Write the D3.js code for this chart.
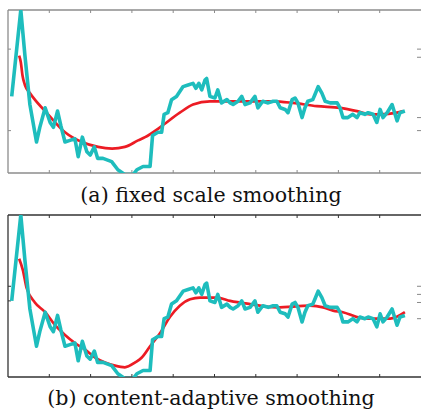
<!DOCTYPE html>
<meta charset="utf-8">
<script src="https://d3js.org/d3.v7.min.js"></script>
<style>
  body { margin: 0; background: #fff; }
  svg { display: block; }
</style>
<div id="chart"></div>
<script>
// signal (same noisy curve in both panels)
const sigX = [0.9, 3.1, 4.1, 5.3, 6.9, 7.7, 9.0, 10.2, 11.0, 12.0, 12.8, 13.8, 15.0, 16.2, 17.0, 18.0, 19.1, 19.9, 20.9, 21.7, 23.0, 25.1, 26.6, 28.3, 30.3, 31.2, 32.7, 34.4, 35.0, 36.3, 37.2, 37.8, 38.7, 39.6, 40.8, 42.4, 43.6, 44.8, 45.5, 46.2, 46.9, 47.7, 48.1, 48.9, 50.1, 50.8, 51.7, 53.0, 53.8, 54.5, 55.7, 56.6, 57.4, 58.6, 59.8, 60.5, 61.7, 63.0, 64.2, 65.1, 65.9, 67.1, 67.8, 68.8, 69.5, 70.2, 71.2, 71.9, 72.6, 73.8, 74.3, 75.1, 76.0, 76.8, 78.0, 79.7, 80.4, 81.1, 82.3, 83.5, 84.5, 85.2, 86.4, 87.2, 88.4, 89.3, 90.1, 90.8, 91.8, 93.0, 94.2, 94.9, 96.1];
const sigY = [0.47, 1.0, 0.72, 0.42, 0.19, 0.28, 0.40, 0.31, 0.28, 0.38, 0.29, 0.19, 0.20, 0.21, 0.10, 0.22, 0.13, 0.11, 0.16, 0.09, 0.09, 0.07, 0.02, -0.01, -0.01, 0.02, 0.04, 0.04, 0.23, 0.25, 0.25, 0.36, 0.37, 0.45, 0.47, 0.53, 0.54, 0.55, 0.52, 0.55, 0.51, 0.57, 0.58, 0.47, 0.46, 0.51, 0.43, 0.45, 0.43, 0.42, 0.44, 0.47, 0.42, 0.43, 0.47, 0.40, 0.44, 0.43, 0.44, 0.44, 0.40, 0.39, 0.37, 0.45, 0.46, 0.43, 0.34, 0.40, 0.44, 0.45, 0.48, 0.53, 0.49, 0.44, 0.43, 0.43, 0.40, 0.34, 0.34, 0.36, 0.34, 0.37, 0.36, 0.37, 0.36, 0.31, 0.39, 0.34, 0.37, 0.42, 0.32, 0.37, 0.38];

// (a) fixed scale smoothing
const fixedX = [2.7, 3.1, 3.5, 4.1, 5.3, 6.5, 9.7, 13.8, 17.9, 21.8, 25.2, 28.3, 31.5, 33.2, 36.8, 41.6, 44.8, 48.9, 53.8, 58.6, 64.2, 69.0, 74.8, 80.4, 84.5, 87.7, 90.1, 94.2, 95.6];
const fixedY = [0.72, 0.68, 0.60, 0.54, 0.49, 0.45, 0.36, 0.25, 0.19, 0.16, 0.15, 0.16, 0.20, 0.22, 0.28, 0.37, 0.42, 0.44, 0.44, 0.44, 0.44, 0.43, 0.41, 0.40, 0.38, 0.36, 0.36, 0.37, 0.38];

// (b) content-adaptive smoothing
const adaptX = [2.7, 3.6, 4.5, 6.5, 9.0, 11.4, 13.8, 16.2, 18.6, 21.1, 23.5, 25.9, 28.3, 30.8, 32.4, 34.4, 36.8, 39.2, 41.6, 44.1, 46.5, 50.6, 53.8, 58.6, 65.1, 73.1, 76.3, 78.7, 81.1, 84.5, 87.7, 92.5, 96.1];
const adaptY = [0.73, 0.66, 0.55, 0.46, 0.40, 0.32, 0.26, 0.21, 0.17, 0.12, 0.09, 0.07, 0.06, 0.09, 0.12, 0.19, 0.27, 0.37, 0.44, 0.48, 0.49, 0.49, 0.47, 0.45, 0.43, 0.44, 0.43, 0.41, 0.40, 0.37, 0.36, 0.36, 0.40];

const xTicks = [0, 10, 20, 30, 40, 50, 60, 70, 80, 90, 100];
const leftTicksA = [0.76, 0.26];
const rightTicksA = [0.76, 0.71, 0.34, 0.26];
const leftTicksB = [0.56, 0.47];
const rightTicksB = [0.56, 0.51, 0.46, 0.36];

const captions = ["(a) fixed scale smoothing", "(b) content-adaptive smoothing"];

const W = 421, H = 411;
const svg = d3.select("#chart").append("svg")
  .attr("width", W).attr("height", H);

const x = d3.scaleLinear().domain([0, 100]).range([8, 421]);

const cyan = "#1ebdbd", red = "#ec1c24";

function panel(id, top, bottom, smoothX, smoothY, lt, rt, frameColor, caption, capY) {
  const y = d3.scaleLinear().domain([0, 1]).range([bottom, top]);
  const g = svg.append("g");

  g.append("clipPath").attr("id", "clip" + id)
    .append("rect").attr("x", 8).attr("y", top).attr("width", W - 8).attr("height", bottom - top);

  // frame
  g.append("line").attr("x1", 8).attr("x2", W).attr("y1", top).attr("y2", top)
    .attr("stroke", frameColor).attr("stroke-width", 1.3);
  g.append("line").attr("x1", 8).attr("x2", W).attr("y1", bottom).attr("y2", bottom)
    .attr("stroke", frameColor).attr("stroke-width", 1.3);
  g.append("line").attr("x1", 8).attr("x2", 8).attr("y1", top).attr("y2", bottom)
    .attr("stroke", frameColor).attr("stroke-width", 1.3);

  // ticks
  const tk = xTicks.slice(1, -1);
  g.selectAll(".tt").data(tk).join("line")
    .attr("x1", d => x(d)).attr("x2", d => x(d))
    .attr("y1", top).attr("y2", top + 3)
    .attr("stroke", frameColor).attr("stroke-width", 1);
  g.selectAll(".tb").data(tk).join("line")
    .attr("x1", d => x(d)).attr("x2", d => x(d))
    .attr("y1", bottom).attr("y2", bottom - 3)
    .attr("stroke", frameColor).attr("stroke-width", 1);
  g.selectAll(".tl").data(lt).join("line")
    .attr("x1", 8).attr("x2", 11)
    .attr("y1", d => y(d)).attr("y2", d => y(d))
    .attr("stroke", frameColor).attr("stroke-width", 1);
  g.selectAll(".tr").data(rt).join("line")
    .attr("x1", W - 4).attr("x2", W)
    .attr("y1", d => y(d)).attr("y2", d => y(d))
    .attr("stroke", "#888").attr("stroke-width", 1);

  const line = d3.line().x(d => x(d[0])).y(d => y(d[1]));
  const sig = sigX.map((v, i) => [v, sigY[i]]);
  const sm = smoothX.map((v, i) => [v, smoothY[i]]);

  const lines = g.append("g").attr("clip-path", `url(#clip${id})`);
  lines.append("path").datum(sm).attr("d", line.curve(d3.curveMonotoneX))
    .attr("fill", "none").attr("stroke", red).attr("stroke-width", 2.7);
  lines.append("path").datum(sig).attr("d", line.curve(d3.curveLinear))
    .attr("fill", "none").attr("stroke", cyan).attr("stroke-width", 3.6)
    .attr("stroke-linejoin", "round");

  svg.append("text")
    .attr("x", 211).attr("y", capY)
    .attr("text-anchor", "middle")
    .style("font-family", "'DejaVu Serif', serif")
    .style("font-size", "20.6px")
    .attr("fill", "#111")
    .text(caption);
}

panel("a", 10, 173, fixedX, fixedY, leftTicksA, rightTicksA, "#8c8c8c", captions[0], 202);
panel("b", 215, 377, adaptX, adaptY, leftTicksB, rightTicksB, "#333", captions[1], 405);
</script>
